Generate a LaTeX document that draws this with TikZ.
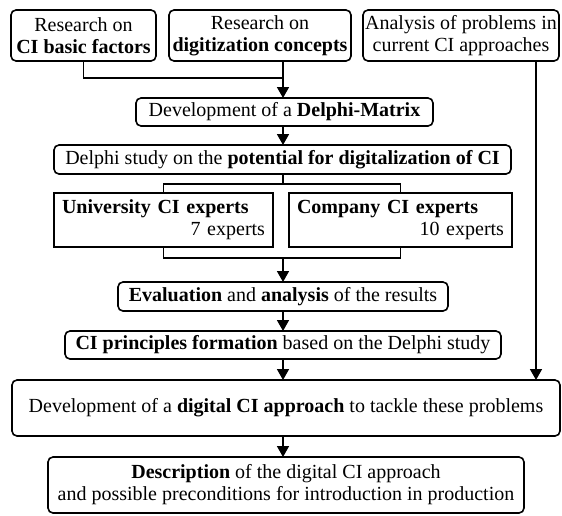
\documentclass[tikz,border=0pt]{standalone}
\usepackage{fontspec}
\setmainfont{Liberation Serif}
\newfontfamily\tnr{Liberation Serif}
\usetikzlibrary{arrows.meta}
\begin{document}
\begin{tikzpicture}[x=1pt,y=-1pt,
  every node/.style={inner sep=0pt, outer sep=0pt, font=\tnr\fontsize{20}{22}\selectfont},
  rbox/.style={draw, line width=1.6pt, rounded corners=5pt, align=center},
  sbox/.style={draw, line width=1.6pt, align=left},
  conn/.style={line width=1.6pt},
  arr/.style={conn, -{Triangle[length=11pt,width=12pt]}}]
\useasboundingbox (0,0) rectangle (562,515);
\node[rbox, minimum width=145pt, minimum height=51pt] (b1) at (83.5,35.5) {Research on\\\textbf{CI basic factors}};
\node[rbox, minimum width=182pt, minimum height=51pt] (b2) at (260,35.5) {Research on\\\textbf{digitization concepts}};
\node[rbox, minimum width=196pt, minimum height=51pt] (b3) at (461,35.5) {Analysis of problems in\\current CI approaches};
\node[rbox, minimum width=297pt, minimum height=28pt] (mat) at (284.5,112) {Development of a \textbf{Delphi-Matrix}};
\node[rbox, minimum width=457pt, minimum height=29pt] (del) at (282.5,159.5) {Delphi study on the \textbf{potential for digitalization of CI}};
\node[sbox, minimum width=219pt, minimum height=54pt, text width=203pt] (uni) at (163.5,220) {\textbf{University CI experts}\\\hspace*{\fill}7 experts};
\node[sbox, minimum width=223pt, minimum height=54pt, text width=207pt] (com) at (400.5,220) {\textbf{Company CI experts}\\\hspace*{\fill}10 experts};
\node[rbox, minimum width=330pt, minimum height=29pt] (eva) at (283,296.5) {\textbf{Evaluation} and \textbf{analysis} of the results};
\node[rbox, minimum width=436pt, minimum height=28pt] (pri) at (283,345) {\textbf{CI principles formation} based on the Delphi study};
\node[rbox, minimum width=548pt, minimum height=56pt] (dev) at (286,408) {Development of a \textbf{digital CI approach} to tackle these problems};
\node[rbox, minimum width=476pt, minimum height=56pt] (des) at (286,485) {\textbf{Description} of the digital CI approach\\and possible preconditions for introduction in production};
\coordinate (j1) at (283,78);
\coordinate (j2) at (283,184);
\coordinate (j3) at (283,258);
\coordinate (rr) at (536,0);
\draw[conn] (b1.south) |- (j1);
\draw[arr] (b2.south -| j1) -- (mat.north -| j1);
\draw[arr] (mat.south -| j1) -- (del.north -| j1);
\draw[conn] (del.south -| j2) -- (j2);
\draw[conn] (uni.north) |- (j2) -| (com.north);
\draw[conn] (uni.south) |- (j3) -| (com.south);
\draw[arr] (j3) -- (eva.north -| j3);
\draw[arr] (eva.south -| j3) -- (pri.north -| j3);
\draw[arr] (pri.south -| j3) -- (dev.north -| j3);
\draw[arr] (dev.south -| j3) -- (des.north -| j3);
\draw[arr] (b3.south -| rr) -- (dev.north -| rr);
\end{tikzpicture}
\end{document}
